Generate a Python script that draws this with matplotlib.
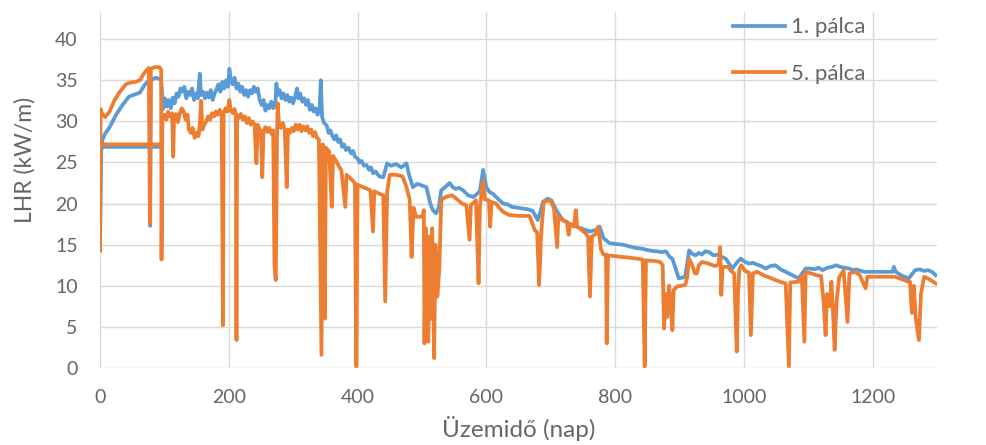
import numpy as np
import matplotlib.pyplot as plt

# 1. pálca (kék)
nap_1 = [3, 96, np.nan,
         0, 2, 4, 8, 15, 25, 35, 45, 55, 62, 70, 77, 78, 79, 86, 92, 95,
         98, 101, 104, 107, 110, 113, 116, 119, 122, 125, 128, 131, 134, 137,
         140, 143, 146, 149, 152, 155, 157, 160, 163, 166, 169, 172, 175, 178,
         181, 184, 187, 190, 193, 196, 199, 201, 203, 206, 209, 212, 215, 218,
         221, 224, 227, 230, 233, 236, 239, 242, 245, 248, 251, 254, 257, 260,
         263, 266, 269, 272, 274, 276, 279, 282, 285, 288, 291, 294, 297, 300,
         303, 306, 308, 311, 314, 317, 320, 323, 326, 329, 332, 335, 338, 341,
         343, 345, 348, 352, 355, 358, 361, 364, 367, 370, 373, 376, 379, 382,
         386, 390, 393, 396, 400, 403, 406, 410, 414, 418, 421, 424, 428, 434,
         440, 446, 452, 460, 468, 476, 480, 486, 493, 500, 507, 513, 517, 522,
         526, 530, 536, 543, 548, 552, 558, 564, 572, 580, 586, 590, 595, 600,
         605, 610, 618, 626, 633, 640, 648, 657, 665, 672, 680, 684, 688, 695,
         701, 710, 719, 730, 740, 750, 761, 770, 776, 782, 791, 800, 812, 822,
         832, 843, 853, 863, 873, 879, 885, 889, 899, 909, 915, 920, 925, 930,
         935, 940, 946, 953, 960, 966, 972, 982, 990, 995, 1002, 1008, 1014,
         1020, 1027, 1034, 1041, 1049, 1057, 1065, 1075, 1085, 1096, 1103, 1110,
         1116, 1122, 1130, 1137, 1143, 1150, 1156, 1163, 1170, 1175, 1182, 1189,
         1200, 1210, 1220, 1231, 1233, 1236, 1246, 1256, 1266, 1273, 1280, 1286,
         1292, 1298]
lhr_1 = [26.9, 26.9, np.nan,
         14.3, 26.5, 27.8, 28.5, 29.3, 30.8, 32.0, 33.0, 33.3, 33.5, 34.5, 35.0, 17.3, 35.0, 35.3, 35.2, 35.0,
         31.5, 32.8, 31.8, 32.6, 31.6, 32.9, 32.2, 33.4, 33.0, 34.0, 33.6, 34.2, 32.8, 33.6,
         33.2, 34.0, 32.6, 33.4, 32.8, 35.8, 33.2, 33.6, 32.8, 33.5, 32.9, 33.8, 32.6, 33.4,
         33.9, 34.5, 33.6, 34.8, 34.0, 35.0, 34.2, 36.4, 35.2, 34.5, 35.3, 34.0, 34.6, 33.6,
         34.2, 33.2, 33.8, 33.0, 33.8, 33.4, 34.2, 33.6, 34.0, 32.6, 32.0, 32.6, 31.3, 32.0,
         31.6, 32.4, 31.6, 31.8, 34.6, 33.2, 33.8, 32.8, 33.4, 32.6, 33.2, 32.4, 32.9, 32.2,
         33.0, 34.0, 32.8, 33.4, 32.4, 32.8, 32.0, 32.6, 31.4, 32.0, 31.2, 31.6, 30.8, 31.4,
         35.0, 30.5, 29.8, 29.5, 28.6, 28.9, 28.2, 27.8, 28.3, 27.5, 27.8, 26.9, 27.2, 26.5,
         26.8, 26.1, 26.4, 25.7, 25.5, 25.0, 25.2, 24.6, 24.7, 24.1, 24.4, 23.7, 23.9, 23.3,
         23.2, 24.9, 24.6, 24.8, 24.4, 24.9, 23.5, 22.0, 22.4, 22.2, 22.0, 20.0, 19.2, 18.8,
         19.5, 21.6, 22.0, 22.5, 22.0, 21.8, 21.9, 21.6, 21.0, 20.8, 21.2, 21.5, 24.1, 22.0,
         21.4, 21.2, 20.6, 20.0, 19.9, 19.6, 19.5, 19.4, 19.3, 19.1, 18.0, 19.0, 20.2, 20.6,
         20.4, 19.0, 18.0, 17.5, 17.2, 16.9, 16.6, 16.8, 17.2, 15.8, 15.2, 15.1, 15.0, 14.8,
         14.6, 14.5, 14.3, 14.2, 14.1, 14.2, 13.5, 13.3, 10.9, 11.1, 14.3, 13.9, 13.7, 14.0,
         13.8, 14.2, 14.1, 13.7, 13.8, 13.5, 13.3, 12.1, 12.9, 13.3, 12.9, 12.7, 12.8,
         12.6, 12.4, 12.1, 12.4, 12.5, 12.0, 11.7, 11.3, 10.9, 12.1, 12.1, 12.0,
         12.2, 11.9, 12.2, 12.3, 12.5, 12.3, 12.2, 12.1, 11.9, 12.0, 11.8, 11.7,
         11.7, 11.7, 11.7, 11.7, 12.3, 11.7, 11.2, 10.9, 11.9, 12.0, 11.8, 11.9,
         11.7, 11.3]

# 5. pálca (narancs)
nap_5 = [3, 96, np.nan,
         0, 1, 3, 8, 15, 22, 30, 40, 46, 55, 62, 68, 72, 76, 77.5, 79, 85, 92, 95, 95.6,
         97, 100, 103, 106, 109, 112, 113.7, 115, 118, 121, 124, 127, 130, 133, 136,
         138, 141, 144, 147, 150, 153, 155, 157, 159, 162, 165, 168, 171, 174, 177,
         180, 183, 186, 189, 191, 192, 195, 198, 201, 203, 206, 209, 211, 212, 213,
         216, 219, 222, 225, 228, 231, 234, 237, 240, 243, 245, 248, 250, 252, 254,
         257, 260, 263, 266, 269, 271, 273, 275, 276, 278, 281, 284, 287, 290, 292,
         295, 298, 301, 304, 307, 310, 313, 316, 319, 322, 325, 328, 331, 334, 337,
         340, 344, 346, 349, 351, 356, 360, 362, 368, 375, 381, 383, 390, 396, 398,
         400, 408, 415, 420, 424, 426, 434, 440, 443, 446, 450, 460, 470, 476, 481,
         484, 487, 491, 501, 503, 504, 506, 508, 510, 512, 514, 516, 519, 521, 524,
         527, 530, 536, 547, 555, 562, 569, 574, 576, 584, 588, 590, 595, 598, 604,
         606, 608, 615, 620, 626, 636, 650, 667, 672, 675, 679, 682, 685, 689, 699,
         705, 710, 712, 718, 725, 728, 730, 736, 739, 741, 748, 754, 758, 761, 764,
         770, 774, 778, 782, 786, 787, 789, 800, 812, 825, 843, 846, 848, 863, 870,
         874, 876, 879, 881, 884, 886, 889, 891, 896, 909, 912, 915, 920, 924, 927,
         930, 935, 945, 955, 961, 963, 964, 965, 967, 976, 980, 985, 989, 991, 993,
         996, 1002, 1008, 1011, 1014, 1021, 1030, 1040, 1049, 1060, 1065, 1070,
         1072, 1085, 1090, 1094, 1096, 1105, 1112, 1120, 1124, 1127, 1129, 1133,
         1136, 1139, 1141, 1144, 1148, 1155, 1161, 1164, 1173, 1180, 1189, 1192,
         1205, 1220, 1235, 1245, 1255, 1258, 1261, 1264, 1267, 1272, 1275, 1280,
         1288, 1292, 1298]
lhr_5 = [27.2, 27.2, np.nan,
         14.3, 31.5, 31.0, 30.5, 31.2, 32.5, 33.5, 34.5, 34.7, 34.8, 35.0, 35.8, 36.2, 36.5, 17.6, 36.4, 36.6, 36.6, 36.3, 13.2,
         30.5, 30.8, 30.2, 31.2, 30.6, 31.0, 25.7, 30.4, 30.9, 29.9, 31.0, 31.6, 31.2, 30.2, 30.8,
         29.0, 28.6, 29.2, 28.0, 28.6, 28.2, 29.5, 32.5, 29.0, 29.6, 30.0, 30.6, 30.2, 31.0, 30.6,
         31.2, 30.8, 31.4, 30.9, 5.2, 31.0, 31.6, 31.2, 32.6, 31.4, 31.0, 31.5, 30.8, 3.4, 30.8,
         30.4, 30.9, 30.2, 30.6, 29.8, 30.4, 29.6, 30.0, 29.6, 24.9, 29.6, 29.0, 28.8, 23.2, 28.8,
         29.3, 28.7, 29.2, 28.5, 28.9, 12.5, 10.7, 28.5, 32.2, 29.6, 29.2, 29.8, 29.0, 22.0, 29.0,
         28.6, 29.2, 28.8, 29.6, 29.0, 29.6, 28.8, 29.4, 28.9, 29.4, 28.6, 29.0, 28.2, 28.7, 28.0,
         27.8, 1.6, 27.2, 6.0, 26.8, 26.3, 19.6, 25.8, 25.0, 24.0, 19.6, 23.5, 23.0, 22.5, 0.2,
         22.3, 22.0, 21.8, 21.6, 16.6, 21.5, 21.2, 21.0, 8.1, 21.5, 23.5, 23.5, 23.3, 22.0, 20.5,
         13.5, 19.5, 18.4, 18.4, 19.2, 3.0, 17.0, 5.5, 3.2, 16.0, 6.0, 17.0, 1.2, 15.0, 8.7,
         12.0, 20.4, 20.8, 21.0, 20.5, 20.0, 19.8, 15.6, 19.8, 20.4, 10.3, 19.5, 22.8, 20.5, 20.4,
         17.2, 20.2, 20.0, 19.5, 19.0, 18.6, 18.5, 18.5, 17.5, 16.8, 16.5, 10.1, 16.0, 20.2, 20.4,
         19.5, 14.7, 18.5, 18.0, 17.8, 16.2, 17.5, 17.2, 19.2, 17.2, 16.8, 16.4, 16.0, 8.7, 16.0,
         16.3, 17.2, 14.5, 13.8, 13.8, 3.0, 13.7, 13.6, 13.5, 13.4, 13.2, 0.2, 13.1, 13.0, 12.9,
         12.5, 4.8, 9.0, 6.2, 10.0, 8.0, 4.6, 9.5, 9.9, 10.1, 11.0, 13.3, 12.5, 11.5, 11.5,
         12.5, 12.9, 12.7, 12.4, 12.6, 14.7, 12.5, 8.9, 12.3, 12.3, 11.8, 11.5, 2.0, 9.1, 12.0,
         12.5, 11.8, 11.6, 4.0, 11.5, 11.7, 11.3, 11.0, 10.7, 10.4, 10.3, 0.2,
         10.4, 10.5, 11.2, 3.2, 11.7, 11.5, 11.3, 11.2, 8.0, 4.0, 9.0, 7.5,
         10.5, 6.0, 2.2, 8.0, 11.0, 11.9, 5.6, 11.5, 11.7, 11.3, 9.7, 11.1,
         11.1, 11.1, 11.1, 10.8, 10.5, 10.5, 6.7, 10.0, 6.0, 3.4, 9.0, 11.1,
         10.8, 10.6, 10.3]

x_ticks = [0, 200, 400, 600, 800, 1000, 1200]
y_ticks = [0, 5, 10, 15, 20, 25, 30, 35, 40]

szurke = "#666666"
plt.rcParams['font.family'] = ['Lato', 'DejaVu Sans']

fig = plt.figure(figsize=(9.86, 4.45), dpi=100)
ax = fig.add_axes([0.1014, 0.173, 0.8489, 0.800])

ax.plot(nap_1, lhr_1, color="#5B9BD5", linewidth=2.7, label="1. pálca", solid_joinstyle="round")
ax.plot(nap_5, lhr_5, color="#ED7D31", linewidth=2.7, label="5. pálca", solid_joinstyle="round")

ax.set_xlim(0, 1300)
ax.set_ylim(0, 43.3)
ax.set_xticks(x_ticks)
ax.set_yticks(y_ticks)
ax.grid(True, color="#D9D9D9", linewidth=1.0)
ax.set_axisbelow(True)
for s in ax.spines.values():
    s.set_visible(False)
ax.tick_params(length=0, labelsize=14, labelcolor=szurke)
ax.tick_params(axis="x", pad=15)
ax.tick_params(axis="y", pad=16)

ax.set_xlabel("Üzemidő (nap)", fontsize=17.5, color=szurke, va="center")
ax.xaxis.set_label_coords(0.5, -0.1685)
ax.set_ylabel("LHR (kW/m)", fontsize=16.5, color=szurke, va="center")
ax.yaxis.set_label_coords(-0.09, 0.584)

leg = ax.legend(loc="upper left", bbox_to_anchor=(0.756, 0.985), frameon=False,
                fontsize=16, handlelength=2.35, handletextpad=0.27, labelspacing=1.2,
                borderpad=0, borderaxespad=0)
for t in leg.get_texts():
    t.set_color(szurke)

fig.savefig("out.png", dpi=100)
